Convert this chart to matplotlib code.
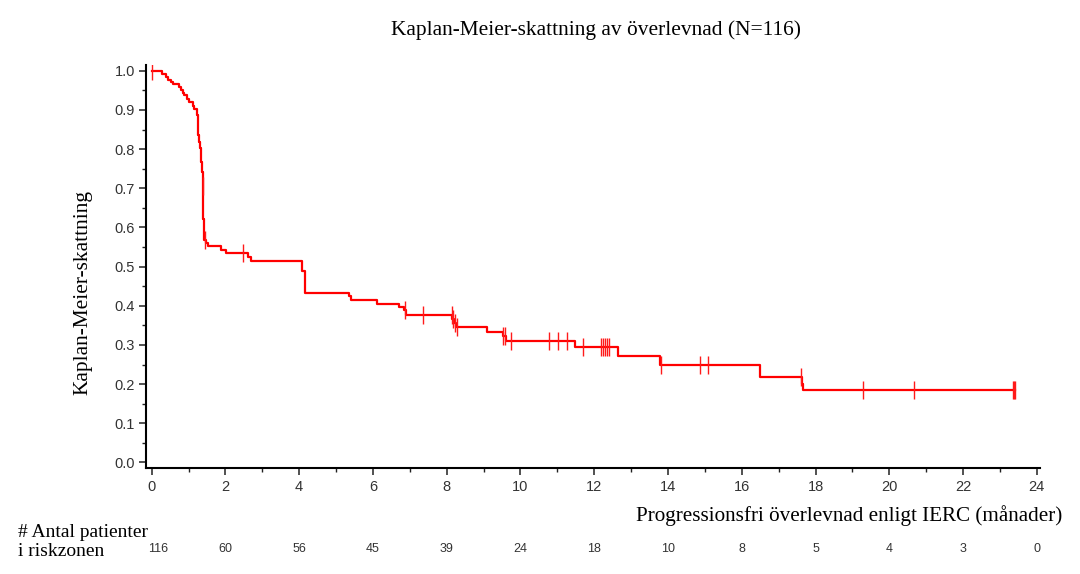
import matplotlib
matplotlib.use("Agg")
import matplotlib.pyplot as plt
import numpy as np

# step changes of the Kaplan-Meier curve (time in months, survival after the drop)
event_t = [0.27, 0.40, 0.45, 0.52, 0.57, 0.75, 0.80, 0.85, 0.89, 0.97, 1.00, 1.11, 1.14,
           1.24, 1.25, 1.27, 1.29, 1.31, 1.34, 1.36, 1.38, 1.39, 1.40, 1.41, 1.43, 1.46, 1.52,
           1.88, 2.01, 2.60, 2.70, 4.08, 4.16, 5.35, 5.40, 6.10, 6.71, 6.84, 6.90,
           8.15, 8.19, 8.24, 9.09, 9.54, 9.60, 11.48, 12.65, 13.79, 16.49, 17.64, 17.67]
event_s = [0.991, 0.983, 0.976, 0.970, 0.966, 0.958, 0.950, 0.943, 0.937, 0.928, 0.920, 0.911, 0.902,
           0.888, 0.862, 0.836, 0.819, 0.802, 0.767, 0.741, 0.707, 0.672, 0.621, 0.586, 0.569, 0.560, 0.552,
           0.543, 0.534, 0.524, 0.514, 0.488, 0.433, 0.424, 0.414, 0.405, 0.396, 0.388, 0.377,
           0.366, 0.356, 0.346, 0.334, 0.322, 0.309, 0.296, 0.273, 0.250, 0.219, 0.201, 0.184]
end_t = 23.42

# censored observations
cens_t = [0.0, 1.38, 1.44, 2.48, 6.87, 7.36, 8.14, 8.18, 8.22, 8.27, 9.54, 9.58, 9.75,
          10.77, 11.02, 11.25, 11.70, 12.19, 12.24, 12.29, 12.34, 12.40, 13.80,
          14.86, 15.08, 17.62, 19.30, 20.67, 23.36, 23.39, 23.42]

risk_t = [0, 2, 4, 6, 8, 10, 12, 14, 16, 18, 20, 22, 24]
risk_n = [116, 60, 56, 45, 39, 24, 18, 10, 8, 5, 4, 3, 0]

serif = ["Liberation Serif", "DejaVu Serif"]
sans = ["Liberation Sans", "DejaVu Sans"]

fig = plt.figure(figsize=(10.8, 5.74), dpi=100)
ax = fig.add_axes([0.1353, 0.1847, 0.9634 - 0.1353, 0.887 - 0.1847])

xs = np.concatenate([[0.0], event_t, [end_t]])
ys = np.concatenate([[1.0], event_s, [event_s[-1]]])
ax.step(xs, ys, where="post", color="#ff0000", lw=1.6)


def surv_at(t):
    s = 1.0
    for et, es in zip(event_t, event_s):
        if et <= t:
            s = es
    return s


cens_s = [surv_at(t) for t in cens_t]
ax.plot(cens_t, cens_s, ls="none", marker="|", ms=12.5, mew=1.0, color="#ff1a1a")

ax.set_xlim(-0.15, 24.1)
ax.set_ylim(-0.014, 1.015)
ax.set_xticks(np.arange(0, 25, 2))
ax.set_xticks(np.arange(0, 25, 1), minor=True)
ax.set_yticks(np.arange(0, 1.01, 0.1))
ax.set_yticks(np.arange(0, 1.01, 0.05), minor=True)
ax.set_yticklabels([f"{v:.1f}" for v in np.arange(0, 1.01, 0.1)])
for s in ["top", "right"]:
    ax.spines[s].set_visible(False)
for s in ["left", "bottom"]:
    ax.spines[s].set_linewidth(1.5)
ax.tick_params(which="major", length=5, width=1.1, color="#222", labelsize=10.5,
               labelcolor="#333")
ax.tick_params(which="minor", length=3, width=1.0, color="#222")
for lab in ax.get_xticklabels() + ax.get_yticklabels():
    lab.set_family(sans)
ax.tick_params(axis="x", pad=4)
ax.tick_params(axis="y", pad=3)

fig.text(0.552, 0.947, "Kaplan-Meier-skattning av överlevnad (N=116)", ha="center", va="center",
         family=serif, fontsize=15.4)
fig.text(0.077, 0.49, "Kaplan-Meier-skattning", rotation=90, ha="center", va="center",
         family=serif, fontsize=15.4)
fig.text(0.984, 0.101, "Progressionsfri överlevnad enligt IERC (månader)", ha="right", va="center",
         family=serif, fontsize=15.2)
fig.text(0.017, 0.073, "# Antal patienter", ha="left", va="center", family=serif, fontsize=14)
fig.text(0.017, 0.039, "i riskzonen", ha="left", va="center", family=serif, fontsize=14)

for t, n in zip(risk_t, risk_n):
    xf = ax.transData.transform((t, 0))[0] / fig.bbox.width
    if t == 0:
        xf += 0.006
    fig.text(xf, 0.043, str(n), ha="center", va="center", family=sans, fontsize=9, color="#333")

fig.savefig("out.png", dpi=100)
